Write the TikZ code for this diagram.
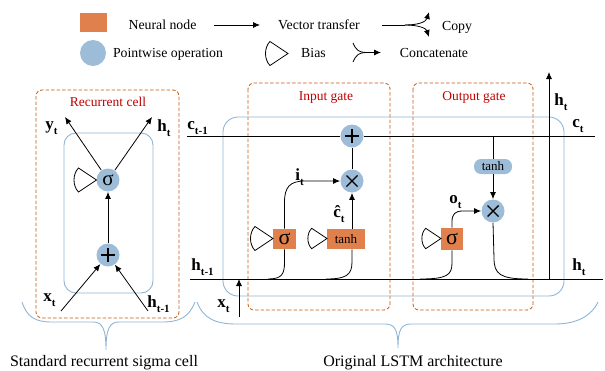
\documentclass[tikz,border=0pt]{standalone}
\usepackage{fontspec}
\setmainfont{Liberation Serif}
\usetikzlibrary{arrows.meta}
\definecolor{nodeor}{HTML}{E0804C}
\definecolor{opblue}{HTML}{9DBCD7}
\definecolor{cellblue}{HTML}{8FB4D6}
\definecolor{gateor}{HTML}{C55A11}
\definecolor{gatered}{HTML}{C00000}
\newcommand\sbt[1]{\raisebox{-0.3em}{\fontsize{11}{11}\selectfont #1}}
\tikzset{
  biasmark/.pic={\draw[line width=0.8pt,black] (0,0) -- (-18,-12) .. controls (-24,-6) and (-24,6) .. (-18,12) -- cycle;}
}
\begin{document}
\begin{tikzpicture}[x=1pt,y=-1pt,line width=0.8pt,
  >={Latex[length=7pt,width=6pt]},
  opcirc/.style={circle,fill=opblue,minimum size=23pt,inner sep=0pt},
  plussym/.style={opcirc,path picture={\draw[line width=1.4pt,black]
     ([xshift=-7pt]path picture bounding box.center)--([xshift=7pt]path picture bounding box.center)
     ([yshift=-7pt]path picture bounding box.center)--([yshift=7pt]path picture bounding box.center);}},
  mulsym/.style={opcirc,path picture={\draw[line width=1.4pt,black]
     ([shift={(-5.5pt,-5.5pt)}]path picture bounding box.center)--([shift={(5.5pt,5.5pt)}]path picture bounding box.center)
     ([shift={(-5.5pt,5.5pt)}]path picture bounding box.center)--([shift={(5.5pt,-5.5pt)}]path picture bounding box.center);}},
  sigc/.style={opcirc,font=\fontsize{21}{21}\selectfont},
  nbox/.style={fill=nodeor,inner sep=0pt,minimum height=20pt},
  sigtxt/.style={font=\fontsize{22}{22}\selectfont},
  tanhtxt/.style={font=\fontsize{13}{13}\selectfont},
  pill/.style={fill=opblue,rounded corners=7pt,minimum width=38pt,minimum height=15pt,inner sep=0pt,font=\fontsize{13}{13}\selectfont},
  lbl/.style={inner sep=0pt,anchor=base west,font=\fontsize{17}{17}\selectfont\bfseries},
  legtxt/.style={inner sep=0pt,anchor=base,font=\fontsize{13.8}{14}\selectfont},
  captxt/.style={inner sep=0pt,anchor=base,font=\fontsize{16}{16}\selectfont},
  gatetxt/.style={inner sep=0pt,anchor=base,text=gatered,font=\fontsize{13.5}{14}\selectfont},
  gatebox/.style={draw=gateor,dash pattern=on 3.5pt off 2pt,line width=0.8pt,rounded corners=6pt},
  cellbox/.style={draw=cellblue,line width=0.9pt},
  bracest/.style={draw=cellblue,line width=0.9pt}
]
\useasboundingbox (0,0) rectangle (605,370);

% ---------------- legend ----------------
\node[fill=nodeor,minimum width=27pt,minimum height=19pt,inner sep=0pt] (lgnode) at (93.5,22.5) {};
\node[legtxt] (lgnodet) at (162.5,29) {Neural node};
\coordinate (lgva) at (214,25);
\coordinate (lgvb) at (260,25);
\draw[->] (lgva) -- (lgvb);
\node[legtxt] (lgvect) at (319,29) {Vector transfer};
\coordinate (lgca) at (382,25);
\coordinate (lgcm) at (405,25);
\coordinate (lgcu) at (429,12);
\coordinate (lgcd) at (429,37);
\draw (lgca) -- (lgcm);
\draw[->] (lgcm) .. controls (418,25) and (426,22) .. (lgcu);
\draw[->] (lgcm) .. controls (418,25) and (426,28) .. (lgcd);
\node[legtxt] (lgcopy) at (457,30) {Copy};
\node[opcirc,minimum size=26pt] (lgop) at (93,53) {};
\node[legtxt] (lgopt) at (168,57) {Pointwise operation};
\pic at (288,53.5) {biasmark};
\node[legtxt] (lgbias) at (313.5,57) {Bias};
\coordinate (lgka) at (353,43);
\coordinate (lgkb) at (353,62);
\coordinate (lgkm) at (366,52.5);
\coordinate (lgke) at (381,52.5);
\draw (lgka) .. controls (356,50) and (359,52.5) .. (lgkm);
\draw (lgkb) .. controls (356,55) and (359,52.5) .. (lgkm);
\draw[->] (lgkm) -- (lgke);
\node[legtxt] (lgcat) at (434,57) {Concatenate};

% ---------------- left: recurrent cell ----------------
\draw[gatebox] (36,90) rectangle (179,318);
\node[gatetxt] (rctitle) at (108,106) {Recurrent cell};
\draw[cellbox,rounded corners=12pt] (64,133) rectangle (153,293);
\node[sigc] (s1) at (108,180) {σ};
\node[plussym] (p1) at (108,255) {};
\pic at (96.5,180) {biasmark};
\coordinate (yt) at (65,117);
\coordinate (htl) at (152,117);
\coordinate (xtl) at (61,311);
\coordinate (hml) at (148,311);
\draw[->] (p1) -- (s1);
\draw[->] (s1) -- (yt);
\draw[->] (s1) -- (htl);
\draw[->] (xtl) -- (p1);
\draw[->] (hml) -- (p1);
\node[lbl] (lyt) at (45,129) {y\sbt{t}};
\node[lbl] (lht) at (157,131) {h\sbt{t}};
\node[lbl] (lxt) at (43,301) {x\sbt{t}};
\node[lbl] (lhm) at (147,307) {h\sbt{t-1}};

% ---------------- right: LSTM ----------------
\draw[gatebox] (248,83) rectangle (390,310);
\draw[gatebox] (413,83) rectangle (533,310);
\node[gatetxt] (igtitle) at (326,100) {Input gate};
\node[gatetxt] (ogtitle) at (474,100) {Output gate};
\draw[cellbox,rounded corners=15pt] (223,117) rectangle (564,296);

\coordinate (cL) at (187,136);
\coordinate (cR) at (595,136);
\coordinate (hL) at (190,279);
\coordinate (hR) at (603,279);
\node[plussym] (add) at (352,136) {};
\draw (cL) -- (add) -- (cR);
\draw (hL) -- (hR);

% input gate
\node[mulsym] (mi) at (352,181) {};
\draw (mi) -- (add);
\node[nbox,minimum width=23pt,sigtxt] (sg1) at (284.5,239) {σ};
\node[nbox,minimum width=38pt,tanhtxt] (th1) at (346,239) {tanh};
\pic at (273,238.5) {biasmark};
\pic[scale=0.85] at (327,238.5) {biasmark};
\coordinate (h1) at (268,279);
\coordinate (h2) at (326,279);
\draw (h1) .. controls (282,279) and (284.5,274) .. (284.5,262) -- (sg1.south);
\draw[->] (sg1.north) -- (284.5,202) .. controls (284.5,187) and (290,181) .. (305,181) -- (mi.west);
\draw (h2) .. controls (346,279) and (352,275) .. (352,262) -- (th1.south -| mi);
\draw[->] (th1.north -| mi) -- (mi.south);
\node[lbl] (lit) at (295,180) {i\sbt{t}};
\node[lbl] (lct) at (333,217) {\^{c}\sbt{t}};

% output gate
\coordinate (ctap) at (493,136);
\node[pill] (th2) at (493,166.5) {tanh};
\node[mulsym] (mo) at (493,211) {};
\draw (ctap) -- (th2.north);
\draw[->] (th2.south) -- (mo.north);
\node[nbox,minimum width=22pt,minimum height=22pt,sigtxt] (sg2) at (452,239) {σ};
\pic[scale=0.85] at (441,238.5) {biasmark};
\coordinate (h3) at (420,279);
\coordinate (h4) at (528,279);
\draw (h3) .. controls (447,279) and (452,275) .. (452,263) -- (sg2.south);
\draw[->] (sg2.north) -- (452,222) .. controls (452,214) and (455,211) .. (463,211) -- (mo.west);
\draw (mo.south) -- (494,258) .. controls (494,274) and (500,279) .. (h4);
\node[lbl] (lot) at (449,203) {o\sbt{t}};

% h_t output and x_t input
\coordinate (hup0) at (549,279);
\coordinate (hup1) at (549,72);
\draw[->] (hup0) -- (hup1);
\coordinate (xin0) at (239,317);
\coordinate (xin1) at (239,279);
\draw[->] (xin0) -- (xin1);

\node[lbl] (lcm) at (187,129) {c\sbt{t-1}};
\node[lbl] (lhm2) at (191,270) {h\sbt{t-1}};
\node[lbl] (lcr) at (572,127) {c\sbt{t}};
\node[lbl] (lhtop) at (554,105) {h\sbt{t}};
\node[lbl] (lhbot) at (572,270) {h\sbt{t}};
\node[lbl] (lxt2) at (217,307) {x\sbt{t}};

% ---------------- braces & captions ----------------
\draw[bracest] (22,302) .. controls (27,317) and (35,322) .. (52,322) -- (93,322)
   .. controls (102,322) and (106,328) .. (106,350)
   .. controls (106,328) and (110,322) .. (119,322) -- (162,322)
   .. controls (180,322) and (189,317) .. (195,302);
\draw[bracest] (197,302) .. controls (203,318) and (215,324) .. (236,324) -- (385,324)
   .. controls (395,324) and (398,330) .. (398,348)
   .. controls (398,330) and (401,324) .. (411,324) -- (555,324)
   .. controls (578,324) and (592,315) .. (598,302);
\node[captxt] (cap1) at (104,366) {Standard recurrent sigma cell};
\node[captxt] (cap2) at (413,366) {Original LSTM architecture};
\end{tikzpicture}
\end{document}
